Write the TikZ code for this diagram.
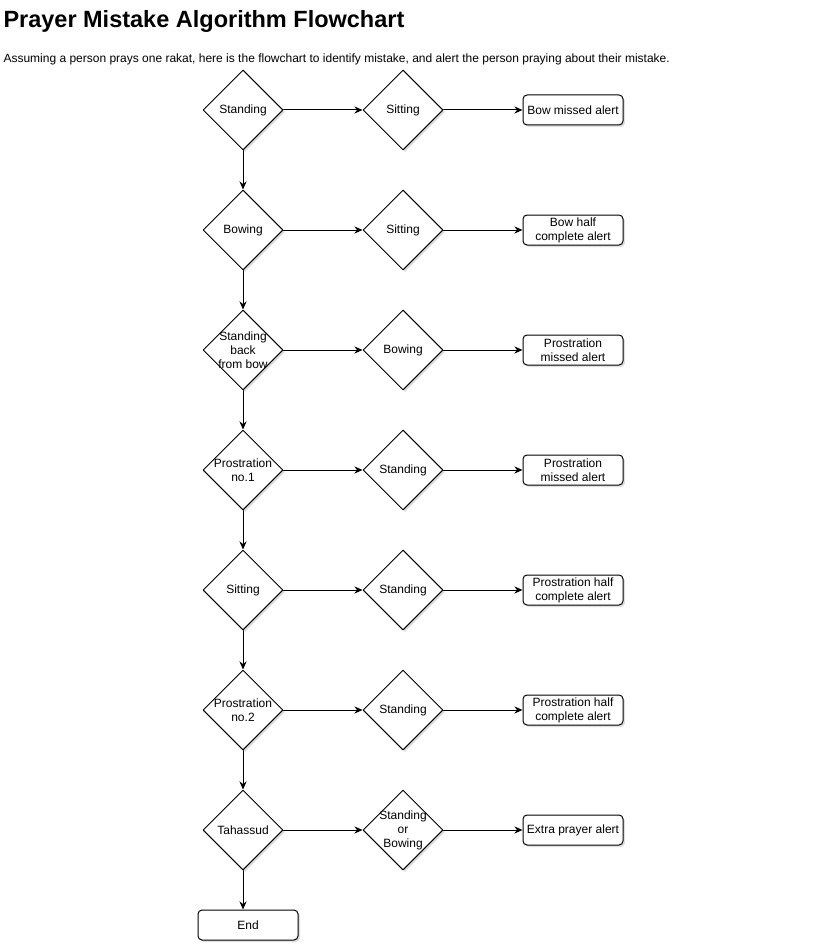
\documentclass[tikz,border=0pt]{standalone}
\usepackage{fontspec}
\setmainfont{Liberation Sans}
\usetikzlibrary{arrows.meta}
\usetikzlibrary{shapes.geometric}
\usetikzlibrary{shadows}

\tikzset{
  decision/.style={diamond, draw, fill=white, minimum width=80pt, minimum height=80pt, inner sep=0pt,
    drop shadow={shadow xshift=2pt, shadow yshift=-2pt, opacity=0.25}},
  alertbox/.style={draw, fill=white, rounded corners=4pt, minimum width=100pt, minimum height=30pt,
    inner sep=1pt, align=center, font=\fontsize{12}{14}\selectfont,
    drop shadow={shadow xshift=2pt, shadow yshift=-2pt, opacity=0.25}},
  txt/.style={align=center, font=\fontsize{12}{14}\selectfont}
}

\begin{document}
\begin{tikzpicture}[line cap=round,line join=round,>={Stealth[length=8pt,width=7pt,inset=2.5pt]},line width=1pt,x=1pt,y=-1pt]
\useasboundingbox (0,0) rectangle (831,952);
\node [anchor=base west, inner sep=0pt, font=\fontsize{23.5}{26}\selectfont\bfseries] (title) at (3,28) {Prayer Mistake Algorithm Flowchart};
\node [anchor=base west, inner sep=0pt, font=\fontsize{12}{14}\selectfont] (subtitle) at (3,63) {Assuming a person prays one rakat, here is the flowchart to identify mistake, and alert the person praying about their mistake.};
% rows: pose, next pose, alert
\foreach \y/\i/\p/\q/\m in {
  110/1/{Standing}/{Sitting}/{Bow missed alert},
  230/2/{Bowing}/{Sitting}/{Bow half\\complete alert},
  350/3/{Standing\\back\\from bow}/{Bowing}/{Prostration\\missed alert},
  470/4/{Prostration\\no.1}/{Standing}/{Prostration\\missed alert},
  590/5/{Sitting}/{Standing}/{Prostration half\\complete alert},
  710/6/{Prostration\\no.2}/{Standing}/{Prostration half\\complete alert},
  830/7/{Tahassud}/{Standing\\or\\Bowing}/{Extra prayer alert}}
{
  \node [decision, label={[txt]center:\p}] (pose\i) at (243,\y) {};
  \node [decision, label={[txt]center:\q}] (next\i) at (403,\y) {};
  \node [alertbox] (alert\i) at (573,\y) {\m};
  \draw [->] (pose\i.east) -- (next\i.west);
  \draw [->] (next\i.east) -- (alert\i.west);
}
\node [alertbox] (end) at (248,925) {End};
\foreach \i/\j in {1/2,2/3,3/4,4/5,5/6,6/7}
  \draw [->] (pose\i.south) -- (pose\j.north);
\draw [->] (pose7.south) -- (pose7.south |- end.north);
\end{tikzpicture}
\end{document}
